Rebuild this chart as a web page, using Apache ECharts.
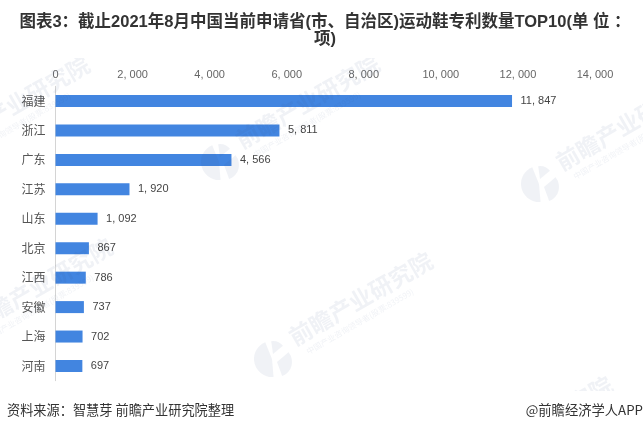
<!DOCTYPE html>
<html><head><meta charset="utf-8">
<style>html,body{margin:0;padding:0;background:#fff}#c{width:643px;height:431px}</style>
<script src="https://cdn.jsdelivr.net/npm/echarts@6/dist/echarts.min.js"></script></head>
<body><div id="c"></div>
<script>
const categories=['福建','浙江','广东','江苏','山东','北京','江西','安徽','上海','河南'];
const values=[11847,5811,4566,1920,1092,867,786,737,702,697];
const titleText='图表3：截止2021年8月中国当前申请省(市、自治区)运动鞋专利数量TOP10(单 位 ：\n项)';
const sourceText='资料来源：智慧芽 前瞻产业研究院整理';
const brandText='@前瞻经济学人APP';
const wmMain='前瞻产业研究院';
const wmSub='中国产业咨询领导者(股票:839599)';
const fmt=v=>String(v).replace(/\B(?=(\d{3})+$)/g,', ');
const cjk='"Noto Sans CJK SC",sans-serif';
const latin='"Liberation Sans",sans-serif';
const wmFill='rgba(60,80,140,0.075)';
const deg=Math.PI/180;
const rot=30*deg;
function lobe(x,y,cx,cy,r,a,b){
  return {type:'sector',x:x,y:y,shape:{cx:cx,cy:cy,r:r,r0:0,startAngle:a*deg,endAngle:b*deg,clockwise:true},style:{fill:wmFill},silent:true,z:3};
}
function wm(x,y){
  return [
    lobe(x,y,-1,0,18,85,248),
    lobe(x,y,4,3,15,-40,70),
    lobe(x,y,0,-5,13,262,320),
    {type:'text',x:x+18,y:y-20,rotation:rot,style:{text:wmMain,font:'bold 23px '+cjk,fill:wmFill,textVerticalAlign:'middle'},silent:true,z:3},
    {type:'text',x:x+34,y:y-7,rotation:rot,style:{text:wmSub,font:'8px '+cjk,fill:wmFill,textVerticalAlign:'middle'},silent:true,z:3}
  ];
}
const logos=[[540,184],[273,359],[220,162],[-70,163],[-47,345],[453,483]];
const marks=[].concat(...logos.map(p=>wm(p[0],p[1])));
const chart=echarts.init(document.getElementById('c'),null,{renderer:'canvas'});
chart.setOption({
  animation:false,
  backgroundColor:'#fff',
  title:{text:titleText,left:320,textAlign:'center',top:9,z:10,
    textStyle:{fontFamily:'"Liberation Sans","Noto Sans CJK SC",sans-serif',fontSize:16.5,fontWeight:'bold',color:'#333',lineHeight:17}},
  grid:{left:55.5,right:48,top:86.3,bottom:50.3},
  xAxis:{type:'value',position:'top',min:0,max:14000,interval:2000,
    axisLine:{show:false},axisTick:{show:false},splitLine:{show:false},
    axisLabel:{margin:6,color:'#666',fontSize:11,fontFamily:latin,formatter:fmt}},
  yAxis:{type:'category',inverse:true,data:categories,
    axisLine:{show:true,lineStyle:{color:'#d4d4d4',width:1}},axisTick:{show:false},
    axisLabel:{margin:10,color:'#555',fontSize:12,fontFamily:cjk}},
  series:[{type:'bar',data:values,barWidth:12,itemStyle:{color:'#4285e0'},
    label:{show:true,position:'right',distance:8.5,color:'#444',fontSize:11,fontFamily:latin,formatter:p=>fmt(p.value)}}],
  graphic:marks.concat([
    {type:'rect',shape:{x:0,y:0,width:643,height:58},style:{fill:'#fff'},silent:true,z:5},
    {type:'rect',shape:{x:0,y:391,width:643,height:40},style:{fill:'#fff'},silent:true,z:5},
    {type:'text',x:7,y:410,style:{text:sourceText,font:'13.2px '+cjk,fill:'#333',textVerticalAlign:'middle'},z:6},
    {type:'text',x:643,y:410,style:{text:brandText,font:'13.3px '+cjk,fill:'#333',textAlign:'right',textVerticalAlign:'middle'},z:6}
  ])
});
</script></body></html>
